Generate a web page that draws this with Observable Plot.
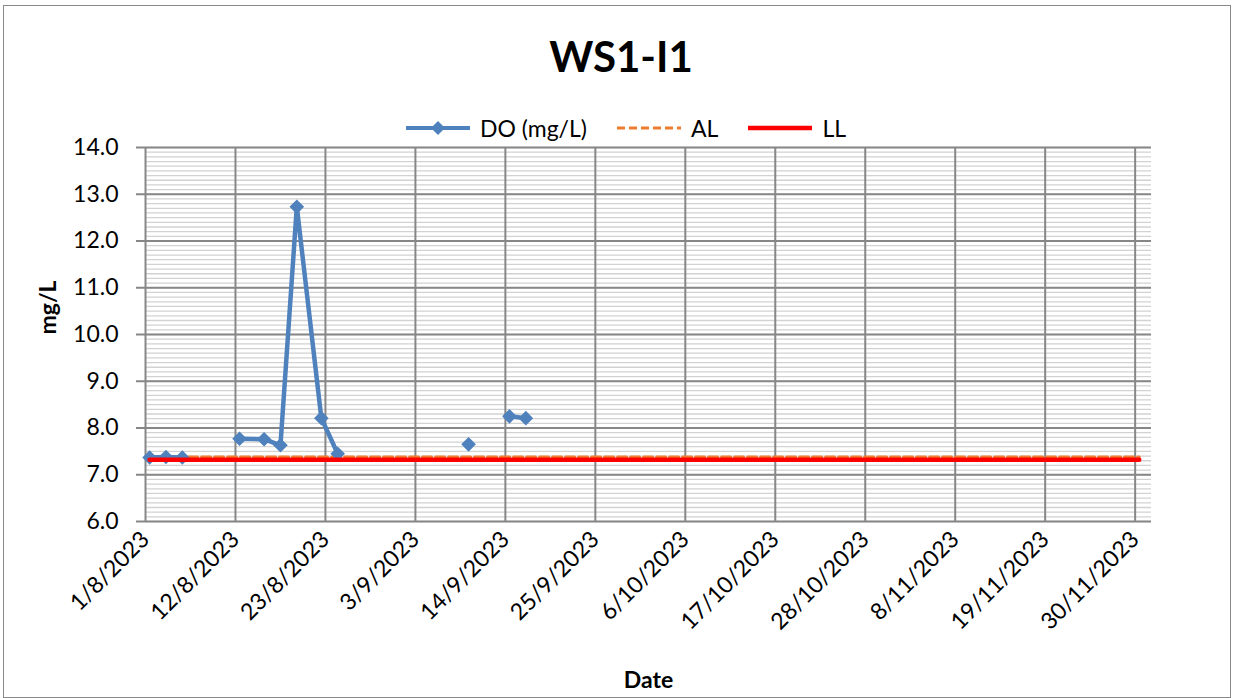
<!DOCTYPE html>
<html>
<head>
<meta charset="utf-8">
<script src="https://cdn.jsdelivr.net/npm/d3@7"></script>
<script src="https://cdn.jsdelivr.net/npm/@observablehq/plot@0.6"></script>
<style>
  html, body { margin: 0; padding: 0; background: #fff; }
  body { font-family: Lato, "Noto Sans", sans-serif; color: #000; }
  #wrap { position: relative; width: 1234px; height: 698px; overflow: hidden; }
  #border { position: absolute; left: 3px; top: 5px; width: 1228px; height: 693px; border: 1px solid #898989; box-sizing: border-box; }
  #title { position: absolute; left: 4px; top: 35px; width: 1234px; text-align: center; font-size: 42px; line-height: 42px; font-weight: 700; }
  #legend { position: absolute; left: 16px; top: 113px; width: 1218px; height: 30px; display: flex; justify-content: center; align-items: center; font-size: 23px; }
  .item { display: flex; align-items: center; margin: 0 14px; }
  .item svg { margin-right: 8px; }
  #chart { position: absolute; left: 0; top: 135px; }
</style>
</head>
<body>
<div id="wrap">
  <div id="border"></div>
  <div id="title">WS1-I1</div>
  <div id="legend"></div>
  <div id="chart"></div>
</div>
<script>
// ---- data ----
const doDates  = ["2023-08-01","2023-08-03","2023-08-05","2023-08-08","2023-08-12","2023-08-15","2023-08-17","2023-08-19","2023-08-22","2023-08-24","2023-08-31","2023-09-09","2023-09-12","2023-09-14","2023-09-16"];
const doValues = [7.37, 7.38, 7.37, null, 7.77, 7.76, 7.63, 12.73, 8.21, 7.45, null, 7.65, null, 8.25, 8.21];
const limitDates = ["2023-08-01", "2023-11-30"];
const alValues = [7.38, 7.38];
const llValues = [7.32, 7.32];
const xTickDates = ["2023-08-01","2023-08-12","2023-08-23","2023-09-03","2023-09-14","2023-09-25","2023-10-06","2023-10-17","2023-10-28","2023-11-08","2023-11-19","2023-11-30"];
const xDomain = ["2023-08-01", "2023-12-02"];
const yMajorTicks = [6, 7, 8, 9, 10, 11, 12, 13, 14];
const yMinorStep = 0.1;
const seriesNames = ["DO (mg/L)", "AL", "LL"];
const colors = { DO: "#4F81BD", AL: "#ED7D31", LL: "#FF0000" };

const parse = s => new Date(s + "T00:00:00Z");
const doData = doDates.map((d, i) => ({ date: parse(d), value: doValues[i] }));
const alData = limitDates.map((d, i) => ({ date: parse(d), value: alValues[i] }));
const llData = limitDates.map((d, i) => ({ date: parse(d), value: llValues[i] }));
const yMinorTicks = d3.range(60, 141).map(v => v * yMinorStep);
// Excel date axis places points in the middle of their day slot
const xPos = d => d3.utcHour.offset(d.date, 12);
const fmt = d3.utcFormat("%-d/%-m/%Y");

// ---- legend ----
const legend = document.getElementById("legend");
const samples = [
  `<svg width="68" height="20"><line x1="2" x2="66" y1="10" y2="10" stroke="${colors.DO}" stroke-width="4"/><path d="M34,3 L41,10 L34,17 L27,10 Z" fill="${colors.DO}"/></svg>`,
  `<svg width="68" height="20"><line x1="2" x2="66" y1="10" y2="10" stroke="${colors.AL}" stroke-width="3" stroke-dasharray="8,4"/></svg>`,
  `<svg width="68" height="20"><line x1="2" x2="66" y1="10" y2="10" stroke="${colors.LL}" stroke-width="4.5"/></svg>`
];
seriesNames.forEach((n, i) => {
  const el = document.createElement("div");
  el.className = "item";
  el.innerHTML = samples[i] + `<span>${n}</span>`;
  legend.appendChild(el);
});

// ---- chart ----
const chart = Plot.plot({
  width: 1234,
  height: 563,
  marginLeft: 145,
  marginRight: 83,
  marginTop: 12,
  marginBottom: 177,
  style: { fontFamily: "Lato, 'Noto Sans', sans-serif", fontSize: "23px", color: "#000", background: "transparent", overflow: "visible" },
  x: { type: "utc", domain: xDomain.map(parse) },
  y: { domain: [6, 14] },
  marks: [
    Plot.gridY(yMinorTicks, { stroke: "#d2d2d2", strokeOpacity: 1, strokeWidth: 1.3 }),
    Plot.gridY(yMajorTicks, { stroke: "#878787", strokeOpacity: 1, strokeWidth: 2 }),
    Plot.gridX(xTickDates.map(parse), { stroke: "#878787", strokeOpacity: 1, strokeWidth: 2 }),
    Plot.axisY(yMajorTicks, { tickSize: 9, tickPadding: 18, tickFormat: d => d.toFixed(1), stroke: "#878787", strokeWidth: 2, fill: "#000", label: null }),
    Plot.axisX(xTickDates.map(parse), { tickSize: 0, tickPadding: 14, tickRotate: -45, tickFormat: fmt, fill: "#000", label: null }),
    Plot.text(["mg/L"], { frameAnchor: "left", rotate: -90, dx: -97, fontWeight: "bold", fontSize: 23 }),
    Plot.text(["Date"], { frameAnchor: "bottom", dy: 166, fontWeight: "bold", fontSize: 23 }),
    Plot.line(alData, { x: xPos, y: "value", stroke: colors.AL, strokeWidth: 3, strokeDasharray: "9,4" }),
    Plot.line(doData, { x: xPos, y: "value", stroke: colors.DO, strokeWidth: 4.5, strokeLinejoin: "round" }),
    Plot.dot(doData, { x: xPos, y: "value", symbol: "diamond2", r: 6.6, fill: colors.DO, stroke: null }),
    Plot.line(llData, { x: xPos, y: "value", stroke: colors.LL, strokeWidth: 4.5 })
  ]
});
document.getElementById("chart").appendChild(chart);
</script>
</body>
</html>
